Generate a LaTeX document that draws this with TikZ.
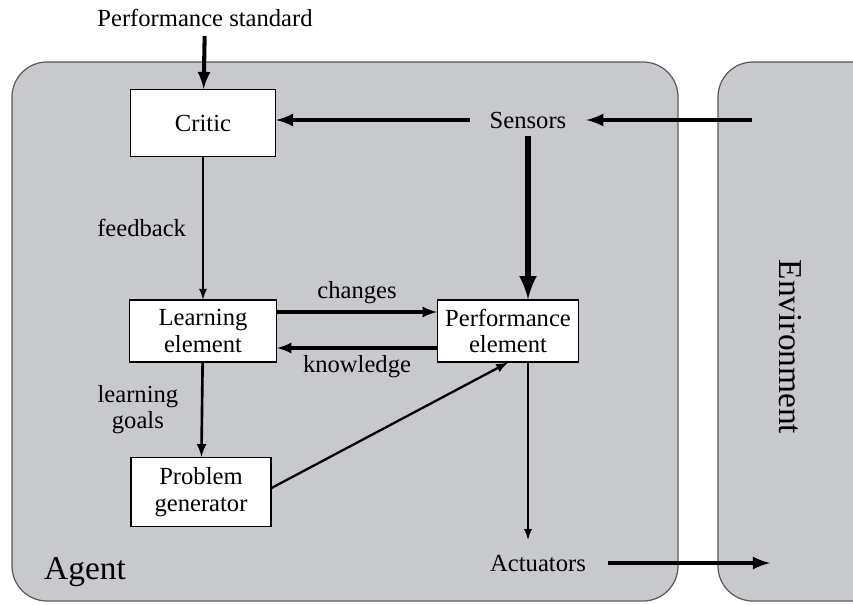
\documentclass[tikz,border=0pt]{standalone}
\usepackage{fontspec}
\setmainfont{Liberation Serif}
\usetikzlibrary{positioning}

\definecolor{agentgray}{RGB}{199,201,205}
\definecolor{rimgray}{RGB}{90,90,90}

\begin{document}
\begin{tikzpicture}[
	x=0.2mm, y=-0.2mm,
	every node/.style = {font=\fontsize{14}{15}\selectfont, inner sep=0mm},
	elem/.style = {shape=rectangle, draw, fill=white, line width=0.6pt, align=center},
	lbl/.style = {shape=rectangle, draw=none, align=center},
	big/.style = {font=\fontsize{19}{20}\selectfont},
	flow/.style = {draw, line width=1.8pt, -latex},
	thinflow/.style = {draw, line width=1.1pt, -latex},
	bigflow/.style = {draw, line width=3.5pt, -latex},
	shell/.style = {draw=rimgray, line width=0.7pt, fill=agentgray, rounded corners=7mm},
	]
\useasboundingbox (0,0) rectangle (853,604);
\fill[white] (0,0) rectangle (853,604);
\clip (0,0) rectangle (853,604);
% the two shells
\draw[shell] (12,62) rectangle (678,601);
\draw[shell] (718,62) rectangle (900,601);
% components
\node[lbl] (std) at (205,18) {Performance standard};
\node[elem, minimum width=29mm, minimum height=13.4mm] (critic) at (203,123) {Critic};
\node[lbl, outer xsep=4mm, outer ysep=1.6mm] (sensors) at (528,120) {Sensors};
\node[elem, minimum width=29.4mm, minimum height=12.4mm] (learn) at (203,331) {Learning\\element};
\node[elem, minimum width=28.2mm, minimum height=12.4mm] (perf) at (508,331) {Performance\\element};
\node[elem, minimum width=28mm, minimum height=13.8mm] (prob) at (201,492) {Problem\\generator};
\node[lbl, outer xsep=4.5mm, outer ysep=3mm] (act) at (538,563) {Actuators};
\node[lbl, big] (agent) at (85,572) {Agent};
\node[lbl, big, rotate=-90] (env) at (790,347) {Environment};
\coordinate (envin) at (752,120);
\coordinate (envout) at (770,563);
% connectors
\draw[flow, line width=2.3pt, shorten <=1.8mm] (std) -- (critic);
\draw[flow, line width=2.3pt] (sensors) -- (sensors -| critic.east);
\draw[flow, line width=2.3pt] (envin) -- (sensors);
\draw[bigflow] (sensors.south) -- (sensors.south |- perf.north);
\draw[thinflow] (critic) -- (learn) node[lbl, midway, left=3.2mm] {feedback};
\draw[flow] ([yshift=3.8mm]learn.east) -- ([yshift=3.8mm]perf.west) node[lbl, midway, above=1.4mm] {changes};
\draw[flow] ([yshift=-3.4mm]perf.west) -- ([yshift=-3.4mm]learn.east) node[lbl, midway, below=1.2mm] {knowledge};
\draw[flow, line width=1.5pt] (learn) -- (prob) node[lbl, midway, left=4.5mm] {learning\\goals};
\draw[flow, line width=1.3pt] ([yshift=0.8mm]prob.east) -- (perf.south);
\draw[thinflow] (sensors.south |- perf.south) -- (sensors.south |- act.north);
\draw[flow, line width=2.3pt] (act) -- (envout);
\end{tikzpicture}
\end{document}
